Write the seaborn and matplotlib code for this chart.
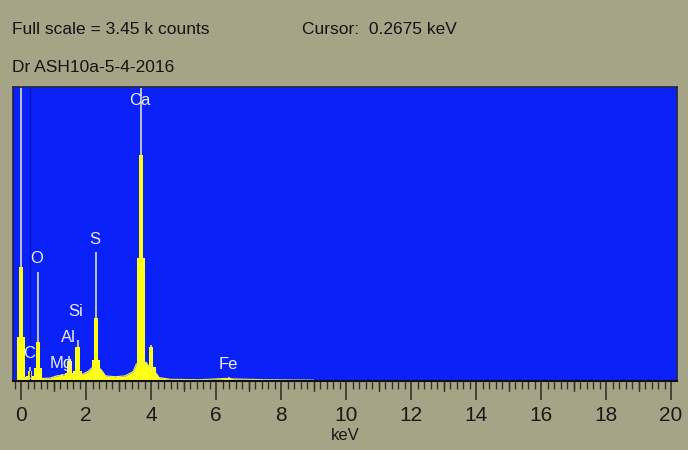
import matplotlib
matplotlib.use('Agg')
import matplotlib.pyplot as plt
from matplotlib import font_manager
from matplotlib.ticker import MultipleLocator
import seaborn as sns

# EDS spectrum, counts (full scale = 3.45 k counts)
peak_kev = [0.00, 0.28, 0.53, 1.25, 1.49, 1.74, 2.31, 3.69, 4.01, 6.40]
tip_counts = [3600, 165, 1280, 80, 290, 480, 1515, 3440, 420, 45]
core_counts = [1340, 120, 460, 60, 240, 400, 740, 2650, 400, 35]
base_counts = [515, 60, 150, 40, 90, 120, 250, 1440, 160, 20]

# low continuum under the peaks
cont_kev = [0.05, 0.15, 0.35, 0.45, 0.65, 0.9, 1.1, 1.3, 1.5, 1.7, 1.9, 2.05, 2.2,
            2.45, 2.6, 2.9, 3.2, 3.45, 3.55, 3.85, 3.95, 4.1, 4.25, 4.6, 5.5, 6.3,
            6.5, 7.5, 9.0]
cont_counts = [60, 40, 30, 40, 30, 35, 60, 70, 90, 85, 80, 110, 160,
               140, 60, 50, 60, 110, 200, 220, 160, 120, 40, 20, 15, 30,
               25, 15, 10]

elements = ['C', 'O', 'Mg', 'Al', 'Si', 'S', 'Ca', 'Fe']
label_kev = [0.25, 0.49, 1.23, 1.45, 1.69, 2.28, 3.66, 6.37]
label_counts = [317, 1443, 211, 516, 821, 1666, 3296, 188]

cursor_kev = 0.2675
full_scale = 3450

sns.set_style('white')
names = {f.name for f in font_manager.fontManager.ttflist}
family = [f for f in ['Liberation Sans Narrow', 'Liberation Sans', 'DejaVu Sans'] if f in names]
plt.rcParams['font.family'] = family

bg = '#a6a487'
yellow = '#ffff14'
fig = plt.figure(figsize=(6.88, 4.5), dpi=100, facecolor=bg)
ax = fig.add_axes([13 / 688, 69 / 450, 664 / 688, 294 / 450])
ax.set_facecolor('#0a22f8')

# cursor
ax.axvline(cursor_kev, color='#0616c8', lw=1.0)

# continuum
ax.fill_between(cont_kev, cont_counts, color=yellow, lw=0)
sns.lineplot(x=cont_kev, y=cont_counts, ax=ax, color='#f4f060', lw=0.8)

# peaks: wide base, yellow core, pale thin tip above the core
ax.bar(peak_kev, base_counts, width=0.26, color=yellow, lw=0)
ax.bar(peak_kev, core_counts, width=0.13, color=yellow, lw=0)
ax.vlines(peak_kev, core_counts, tip_counts, color='#ecebb0', lw=1.1)

for el, x, y in zip(elements, label_kev, label_counts):
    ax.text(x, y, el, color='#ececf8', fontsize=12, ha='center', va='center')

ax.set_xlim((13 - 21) / 32.5, (677 - 21) / 32.5)
ax.set_ylim(0, full_scale)
ax.set_yticks([])
ax.xaxis.set_major_locator(MultipleLocator(2))
ax.xaxis.set_minor_locator(MultipleLocator(0.2))
ax.tick_params(axis='x', which='major', direction='out', length=14, width=1.2,
               color='#333326', labelsize=15, labelcolor='#1a1a14', pad=4, bottom=True)
ax.tick_params(axis='x', which='minor', direction='out', length=6, width=1.0,
               color='#333326', bottom=True)
# 1 keV marks a bit longer
for k in range(1, 20, 2):
    ax.plot([k, k], [0, -0.035], transform=ax.get_xaxis_transform(), clip_on=False,
            color='#333326', lw=1.0)
ax.set_xlabel('keV', fontsize=12, color='#1a1a14', labelpad=2)

for side in ['top', 'left', 'right']:
    ax.spines[side].set_color('#22224a')
    ax.spines[side].set_linewidth(1.2)
ax.spines['bottom'].set_color('#101010')
ax.spines['bottom'].set_linewidth(1.5)

fig.text(12 / 688, 1 - 30 / 450, 'Full scale = 3.45 k counts', fontsize=12.5,
         color='#141410', va='center')
fig.text(302 / 688, 1 - 30 / 450, 'Cursor:  0.2675 keV', fontsize=12.5,
         color='#141410', va='center')
fig.text(12 / 688, 1 - 68 / 450, 'Dr ASH10a-5-4-2016', fontsize=12.5,
         color='#141410', va='center')

fig.savefig('out.png', dpi=100, facecolor=bg)
